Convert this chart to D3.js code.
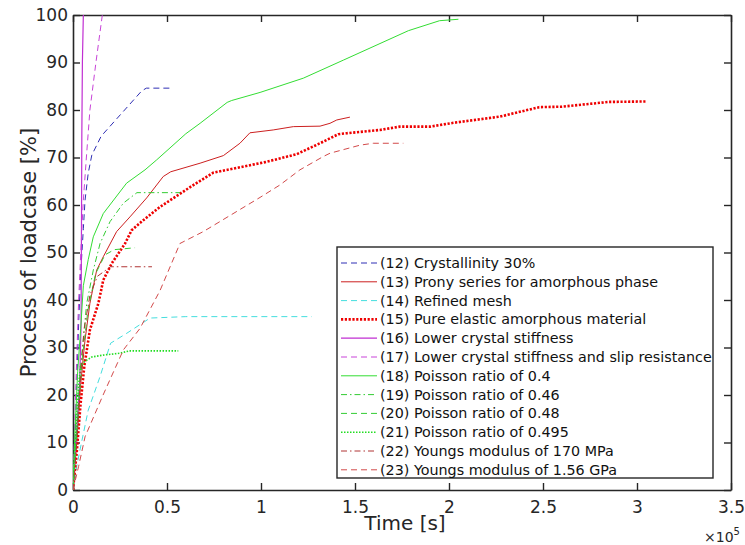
<!DOCTYPE html>
<html>
<head>
<meta charset="utf-8">
<script src="https://cdn.jsdelivr.net/npm/d3@7/dist/d3.min.js"></script>
<style>
  html, body { margin: 0; padding: 0; background: #fff; }
  svg { display: block; font-family: "DejaVu Sans", sans-serif; }
</style>
</head>
<body>
<svg id="chart" width="745" height="545"></svg>
<script>
// Time values in units of 1e5 s, progress in %
const s12 = [[0,0],[0.01,10],[0.02,22],[0.03,35],[0.04,45],[0.055,55],[0.064,61],[0.081,66.7],[0.1,70.5],[0.15,74.5],[0.365,84],[0.39,84.6],[0.52,84.6]];
const s13 = [[0,0],[0.02,10],[0.04,22],[0.064,31.6],[0.09,39.3],[0.126,46.3],[0.161,49.1],[0.232,54.4],[0.303,57.5],[0.392,61.5],[0.48,66],[0.52,67],[0.676,68.8],[0.8,70.4],[0.888,73],[0.941,75.2],[1.065,75.8],[1.172,76.5],[1.314,76.6],[1.367,77.2],[1.403,77.9],[1.473,78.5]];
const s14 = [[0,0],[0.02,5],[0.037,8.4],[0.081,16.8],[0.144,23.9],[0.2,30.9],[0.286,33],[0.41,36.2],[0.6,36.5],[1.27,36.5]];
const s15 = [[0,0],[0.02,8],[0.04,18],[0.06,26],[0.09,33.7],[0.135,39.3],[0.161,44.2],[0.206,47.7],[0.277,51.9],[0.312,54.7],[0.374,56.8],[0.463,59.6],[0.64,64.2],[0.746,66.8],[1.03,69.1],[1.19,70.7],[1.314,73],[1.411,74.9],[1.456,75.1],[1.633,75.8],[1.739,76.5],[1.9,76.5],[2.023,77.3],[2.27,78.6],[2.48,80.6],[2.6,80.7],[2.85,81.7],[3.05,81.8]];
const s16 = [[0,0],[0.015,10],[0.035,22],[0.043,35],[0.045,55],[0.047,75],[0.05,90],[0.055,100]];
const s17 = [[0,0],[0.01,15],[0.02,28],[0.03,40],[0.046,54],[0.055,61],[0.073,71],[0.09,80],[0.122,90],[0.156,100]];
const s18 = [[0,0],[0.01,12],[0.025,25],[0.041,34],[0.055,43],[0.081,48.5],[0.108,53.3],[0.161,58.2],[0.285,64.6],[0.383,67.4],[0.445,69.5],[0.6,75],[0.676,77.2],[0.82,81.6],[0.844,82],[0.995,83.7],[1.225,86.7],[1.438,90.5],[1.784,96.7],[1.95,98.8],[2.05,99.1]];
const s19 = [[0,0],[0.02,12],[0.04,26],[0.073,39.3],[0.108,46.3],[0.144,51.9],[0.197,56.5],[0.268,60.4],[0.34,62.6],[0.57,62.6]];
const s20 = [[0,0],[0.02,12],[0.05,28],[0.08,38],[0.12,45.5],[0.17,49.5],[0.22,50.6],[0.33,51]];
const s21 = [[0,0],[0.01,8],[0.02,16],[0.03,22],[0.04,26],[0.06,27],[0.1,28],[0.16,28.4],[0.25,28.8],[0.3,29.3],[0.56,29.3]];
const s22 = [[0,0],[0.02,10],[0.04,24],[0.06,34],[0.09,41],[0.13,45],[0.2,47],[0.42,47]];
const s23 = [[0,0],[0.03,5],[0.064,11.2],[0.16,20],[0.268,29.5],[0.356,34],[0.463,42],[0.569,51.9],[0.693,54.4],[0.995,61.6],[1.1,64.2],[1.207,67.4],[1.331,70.2],[1.367,70.9],[1.527,72.6],[1.597,73],[1.757,73]];

const seriesNames = [
  "(12) Crystallinity 30%",
  "(13) Prony series for amorphous phase",
  "(14) Refined mesh",
  "(15) Pure elastic amorphous material",
  "(16) Lower crystal stiffness",
  "(17) Lower crystal stiffness and slip resistance",
  "(18) Poisson ratio of 0.4",
  "(19) Poisson ratio of 0.46",
  "(20) Poisson ratio of 0.48",
  "(21) Poisson ratio of 0.495",
  "(22) Youngs modulus of 170 MPa",
  "(23) Youngs modulus of 1.56 GPa"
];
const seriesData = [s12, s13, s14, s15, s16, s17, s18, s19, s20, s21, s22, s23];

const xTicks = [0, 0.5, 1, 1.5, 2, 2.5, 3, 3.5];
const yTicks = [0, 10, 20, 30, 40, 50, 60, 70, 80, 90, 100];

// line styles per series
const styles = [
  { color: "#2f2fb4", width: 1,   dash: "6,4" },
  { color: "#cc2020", width: 1,   dash: null },
  { color: "#44dede", width: 1,   dash: "6,4" },
  { color: "#ee0000", width: 2.6, dash: "2.2,1.6" },
  { color: "#c02ed2", width: 1.2, dash: null },
  { color: "#c844d8", width: 1,   dash: "6,4" },
  { color: "#33dd33", width: 1,   dash: null },
  { color: "#33cc33", width: 1,   dash: "6,3,1.5,3" },
  { color: "#33cc33", width: 1,   dash: "6,4" },
  { color: "#22dd22", width: 1.6, dash: "1.5,1.5" },
  { color: "#b03434", width: 1,   dash: "6,3,1.5,3" },
  { color: "#d24a4a", width: 1,   dash: "6,4" }
];

const svg = d3.select("#chart");
const margin = { left: 73, right: 14, top: 15, bottom: 55 };
const W = 745, H = 545;
const x = d3.scaleLinear().domain([0, 3.5]).range([margin.left, W - margin.right]);
const y = d3.scaleLinear().domain([0, 100]).range([H - margin.bottom, margin.top]);

svg.append("defs").append("clipPath").attr("id", "plotclip")
  .append("rect")
  .attr("x", x(0)).attr("y", y(100))
  .attr("width", x(3.5) - x(0)).attr("height", y(0) - y(100));

const axisColor = "#262626";
const axisFont = "'DejaVu Sans', sans-serif";
const tickLen = 7;

// axes with inward ticks
const xAxis = d3.axisBottom(x).tickValues(xTicks).tickSizeInner(-tickLen).tickSizeOuter(0)
  .tickPadding(11).tickFormat(d => d3.format("")(d));
const yAxis = d3.axisLeft(y).tickValues(yTicks).tickSizeInner(-tickLen).tickSizeOuter(0)
  .tickPadding(5);

const gx = svg.append("g").attr("transform", `translate(0,${y(0)})`).call(xAxis);
const gy = svg.append("g").attr("transform", `translate(${x(0)},0)`).call(yAxis);
const gxTop = svg.append("g").attr("transform", `translate(0,${y(100)})`)
  .call(d3.axisTop(x).tickValues(xTicks).tickSizeInner(-tickLen).tickSizeOuter(0).tickFormat(""));
const gyRight = svg.append("g").attr("transform", `translate(${x(3.5)},0)`)
  .call(d3.axisRight(y).tickValues(yTicks).tickSizeInner(-tickLen).tickSizeOuter(0).tickFormat(""));

[gx, gy, gxTop, gyRight].forEach(g => {
  g.select(".domain").attr("stroke", axisColor).attr("stroke-width", 1.6);
  g.selectAll(".tick line").attr("stroke", axisColor).attr("stroke-width", 1.4);
  g.selectAll(".tick text").attr("fill", "#262626")
    .style("font-family", axisFont)
    .style("font-size", "17px");
});

// data lines
const line = d3.line().x(d => x(d[0])).y(d => y(d[1]));
const plot = svg.append("g").attr("clip-path", "url(#plotclip)");
seriesData.forEach((data, i) => {
  const st = styles[i];
  plot.append("path")
    .datum(data)
    .attr("d", line)
    .attr("fill", "none")
    .attr("stroke", st.color)
    .attr("stroke-width", st.width)
    .attr("stroke-dasharray", st.dash)
    .attr("stroke-linejoin", "round");
});

// axis labels
svg.append("text")
  .attr("x", 405).attr("y", 530)
  .attr("text-anchor", "middle")
  .style("font-family", axisFont)
  .style("font-size", "20px").attr("fill", "#262626")
  .text("Time [s]");

svg.append("text")
  .attr("transform", `translate(36,${(y(0) + y(100)) / 2}) rotate(-90)`)
  .attr("text-anchor", "middle")
  .style("font-family", axisFont)
  .style("font-size", "21px").attr("fill", "#262626")
  .text("Process of loadcase [%]");

// exponent multiplier for the time axis
const expo = svg.append("text")
  .attr("x", 704).attr("y", 542)
  .style("font-family", axisFont)
  .style("font-size", "14px").attr("fill", "#262626");
expo.append("tspan").text("\u00d710");
expo.append("tspan").attr("dy", -7).style("font-size", "10px").text("5");

// legend
const lg = svg.append("g");
const legX = 337, legY = 247, legW = 376, legH = 231;
lg.append("rect")
  .attr("x", legX).attr("y", legY).attr("width", legW).attr("height", legH)
  .attr("fill", "#fff").attr("stroke", axisColor).attr("stroke-width", 1.4);
seriesNames.forEach((name, i) => {
  const cy = 263 + i * 18.8;
  const st = styles[i];
  lg.append("line")
    .attr("x1", 341).attr("x2", 377).attr("y1", cy).attr("y2", cy)
    .attr("stroke", st.color).attr("stroke-width", st.width)
    .attr("stroke-dasharray", st.dash);
  lg.append("text")
    .attr("x", 380).attr("y", cy).attr("dy", "0.35em")
    .style("font-family", "'DejaVu Sans', sans-serif")
    .style("font-size", "14.3px").attr("fill", "#111")
    .text(name);
});
</script>
</body>
</html>
